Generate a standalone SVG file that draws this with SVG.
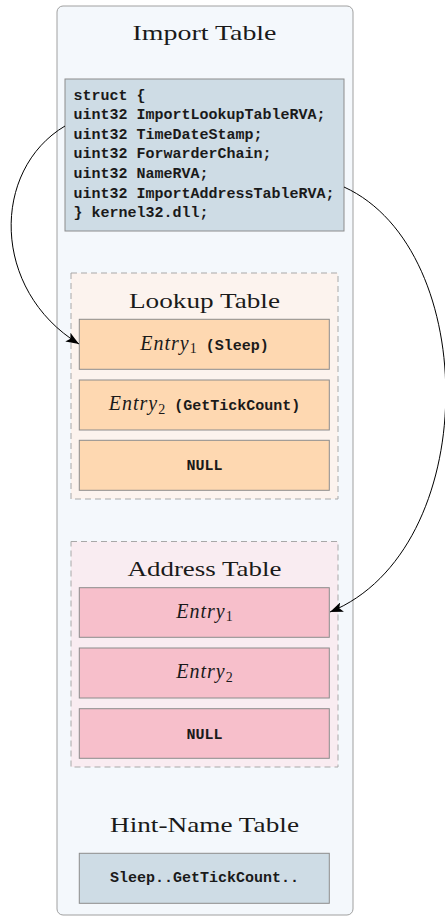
<svg xmlns="http://www.w3.org/2000/svg" width="445" height="917" viewBox="0 0 445 917">
  <style>
    .title { font-family: "Liberation Serif", "Times New Roman", serif; font-size: 22px; fill: #1a1a1a; text-anchor: middle; }
    .mono { font-family: "Liberation Mono", "Courier New", monospace; font-size: 15px; font-weight: bold; fill: #1a1a1a; }
    .ital { font-family: "Liberation Serif", "Times New Roman", serif; font-style: italic; font-size: 20px; font-weight: normal; letter-spacing: 1px; }
    .sub { font-family: "Liberation Serif", "Times New Roman", serif; font-size: 14px; font-style: normal; font-weight: normal; letter-spacing: 0; }
    .center { text-anchor: middle; }
    .box { stroke: #8c8c8c; stroke-width: 1; }
    .blue { fill: #cedce5; }
    .peach { fill: #fed8b1; }
    .pink { fill: #f7bfcb; }
    .group { stroke: #a8a8a8; stroke-width: 1; stroke-dasharray: 6 4; }
    .edge { fill: none; stroke: #000; stroke-width: 1; }
  </style>
  <defs>
    <marker id="arrow" markerUnits="userSpaceOnUse" markerWidth="14" markerHeight="10" viewBox="0 0 14 10" refX="13" refY="5" orient="auto">
      <path d="M0,0 L13,5 L0,10 L3,5 Z" fill="#000"/>
    </marker>
  </defs>

  <!-- outer container -->
  <g id="import-table">
    <rect x="57" y="6" width="296" height="909" rx="6" ry="6" fill="#f4f8fc" stroke="#a0a0a0" stroke-width="1"/>
    <text class="title" x="204.5" y="39.5" textLength="144" lengthAdjust="spacingAndGlyphs">Import Table</text>
  </g>

  <!-- struct definition -->
  <g id="struct">
    <rect class="box blue" x="65" y="79" width="279" height="152"/>
    <text class="mono" x="73.5" y="99.5">struct {</text>
    <text class="mono" x="73.5" y="119.1">uint32 ImportLookupTableRVA;</text>
    <text class="mono" x="73.5" y="138.7">uint32 TimeDateStamp;</text>
    <text class="mono" x="73.5" y="158.3">uint32 ForwarderChain;</text>
    <text class="mono" x="73.5" y="177.9">uint32 NameRVA;</text>
    <text class="mono" x="73.5" y="197.5">uint32 ImportAddressTableRVA;</text>
    <text class="mono" x="73.5" y="217.1">} kernel32.dll;</text>
  </g>

  <!-- lookup table -->
  <g id="lookup-table">
    <rect class="group" x="71" y="273" width="267" height="226" fill="#fcf3ee"/>
    <text class="title" x="204.5" y="308" textLength="151" lengthAdjust="spacingAndGlyphs">Lookup Table</text>
  </g>
  <g id="lookup-entry1">
    <rect class="box peach" x="79.3" y="319.3" width="250" height="50"/>
    <text class="mono center" x="204.5" y="349.5"><tspan class="ital">Entry</tspan><tspan class="sub" dy="3.5">1</tspan><tspan dy="-3.5"> (Sleep)</tspan></text>
  </g>
  <g id="lookup-entry2">
    <rect class="box peach" x="79.3" y="380" width="250" height="50"/>
    <text class="mono center" x="204.5" y="410"><tspan class="ital">Entry</tspan><tspan class="sub" dy="3.5">2</tspan><tspan dy="-3.5"> (GetTickCount)</tspan></text>
  </g>
  <g id="lookup-null">
    <rect class="box peach" x="79.3" y="440.3" width="250" height="50"/>
    <text class="mono center" x="204.5" y="470">NULL</text>
  </g>

  <!-- address table -->
  <g id="address-table">
    <rect class="group" x="71" y="541.5" width="267" height="225.5" fill="#f9ecf1"/>
    <text class="title" x="204.5" y="576" textLength="154" lengthAdjust="spacingAndGlyphs">Address Table</text>
  </g>
  <g id="address-entry1">
    <rect class="box pink" x="79.3" y="587.7" width="250" height="49.6"/>
    <text class="mono center" x="204.5" y="617.5"><tspan class="ital">Entry</tspan><tspan class="sub" dy="3.5">1</tspan></text>
  </g>
  <g id="address-entry2">
    <rect class="box pink" x="79.3" y="648" width="250" height="50"/>
    <text class="mono center" x="204.5" y="678"><tspan class="ital">Entry</tspan><tspan class="sub" dy="3.5">2</tspan></text>
  </g>
  <g id="address-null">
    <rect class="box pink" x="79.3" y="708.7" width="250" height="49.6"/>
    <text class="mono center" x="204.5" y="738.5">NULL</text>
  </g>

  <!-- hint-name table -->
  <g id="hint-name-table">
    <text class="title" x="204.5" y="831.5" textLength="189" lengthAdjust="spacingAndGlyphs">Hint-Name Table</text>
    <rect class="box blue" x="79.3" y="853.3" width="250" height="50"/>
    <text class="mono center" x="204.5" y="882">Sleep..GetTickCount..</text>
  </g>

  <!-- connectors -->
  <g id="connectors">
    <path class="edge" d="M65,126 C-9,170 -9,290 79,344" marker-end="url(#arrow)"/>
    <path class="edge" d="M344,187 C482,250 482,550 330,612" marker-end="url(#arrow)"/>
  </g>
</svg>
